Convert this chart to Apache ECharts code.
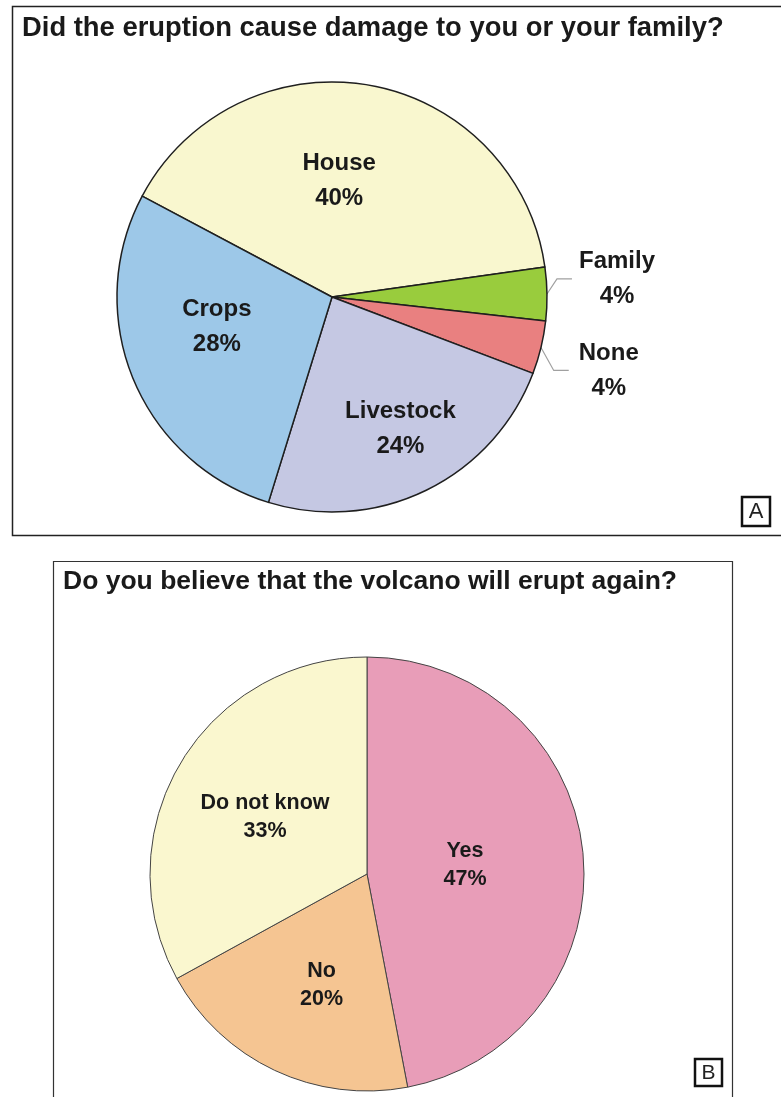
<!DOCTYPE html>
<html>
<head>
<meta charset="utf-8">
<script src="https://cdn.jsdelivr.net/npm/echarts@6/dist/echarts.min.js"></script>
<style>
  html, body { margin: 0; padding: 0; background: #ffffff; }
  #chart { width: 781px; height: 1097px; }
</style>
</head>
<body>
<div id="chart"></div>
<script>
// ---- Panel A data ----
const damageTitle = 'Did the eruption cause damage to you or your family?';
const damageCategories = ['House', 'Family', 'None', 'Livestock', 'Crops'];
const damageValues = [40, 4, 4, 24, 28];
const damageColors = ['#F9F7CF', '#99CC3D', '#E98080', '#C5C8E3', '#9DC8E8'];

// ---- Panel B data ----
const beliefTitle = 'Do you believe that the volcano will erupt again?';
const beliefCategories = ['Yes', 'No', 'Do not know'];
const beliefValues = [47, 20, 33];
const beliefColors = ['#E89DB8', '#F5C592', '#FAF7CF'];

const FONT = '"Liberation Sans", Arial, sans-serif';
const TEXT = '#1a1a1a';

// label nudges (layout only)
const damageNudge = {
  House: [-12, -7], Crops: [-13, -12], Livestock: [20, 33],
  Family: [4, -15], None: [10, 21]
};
const beliefNudge = { 'Yes': [-13, 2], 'No': [2, 10], 'Do not know': [-6, 0] };

const chart = echarts.init(document.getElementById('chart'), null, { renderer: 'canvas' });

function damageLayout(p) {
  const name = damageCategories[p.dataIndex];
  const n = damageNudge[name] || [0, 0];
  const out = { dx: n[0], dy: n[1] };
  const pts = p.labelLinePoints;
  if (pts && pts.length === 3 && (name === 'Family' || name === 'None')) {
    out.labelLinePoints = [
      [pts[0][0], pts[0][1]],
      [pts[1][0] + n[0] * 0.5, pts[1][1] + n[1]],
      [pts[2][0] + n[0] * 0.5, pts[2][1] + n[1]]
    ];
  }
  return out;
}

const option = {
  backgroundColor: '#ffffff',
  animation: false,
  title: [
    {
      text: damageTitle, left: 22, top: 15, padding: 0,
      textStyle: { fontFamily: FONT, fontWeight: 'bold', fontSize: 27.4, color: TEXT }
    },
    {
      text: beliefTitle, left: 63, top: 568, padding: 0,
      textStyle: { fontFamily: FONT, fontWeight: 'bold', fontSize: 26.5, color: TEXT }
    }
  ],
  graphic: [
    { type: 'rect', shape: { x: 12.5, y: 6.5, width: 800, height: 529 },
      style: { fill: 'none', stroke: '#222', lineWidth: 1.5 }, silent: true },
    { type: 'rect', shape: { x: 53.5, y: 561.5, width: 679, height: 600 },
      style: { fill: 'none', stroke: '#333', lineWidth: 1.2 }, silent: true },
    { type: 'rect', shape: { x: 742, y: 497, width: 28, height: 29 },
      style: { fill: '#fff', stroke: '#111', lineWidth: 2.5 }, silent: true },
    { type: 'text', x: 756, y: 511.5,
      style: { text: 'A', fontFamily: FONT, fontSize: 22, fill: '#222', align: 'center', verticalAlign: 'middle' } },
    { type: 'rect', shape: { x: 695, y: 1059, width: 27, height: 27 },
      style: { fill: '#fff', stroke: '#111', lineWidth: 2.5 }, silent: true },
    { type: 'text', x: 708.5, y: 1073,
      style: { text: 'B', fontFamily: FONT, fontSize: 21, fill: '#222', align: 'center', verticalAlign: 'middle' } }
  ],
  series: [
    {
      type: 'pie',
      center: [332, 297],
      radius: 215,
      startAngle: 152,
      clockwise: true,
      avoidLabelOverlap: false,
      itemStyle: { borderColor: '#1f1f1f', borderWidth: 1.5 },
      emphasis: { disabled: true },
      data: damageCategories.map((name, i) => ({
        name, value: damageValues[i],
        itemStyle: { color: damageColors[i] },
        label: (name === 'Family' || name === 'None')
          ? { position: 'outside' } : { position: 'inside' },
        labelLine: { show: name === 'Family' || name === 'None' }
      })),
      label: {
        formatter: p => '{t|' + p.name + '}\n{t|' + damageValues[p.dataIndex] + '%}',
        rich: {
          t: { fontFamily: FONT, fontWeight: 'bold', fontSize: 24, color: TEXT,
               align: 'center', lineHeight: 35 }
        }
      },
      labelLine: { length: 8, length2: 15, smooth: false,
                   lineStyle: { color: '#a0a0a0', width: 1.2 } },
      labelLayout: damageLayout
    },
    {
      type: 'pie',
      center: [367, 874],
      radius: 217,
      startAngle: 90,
      clockwise: true,
      avoidLabelOverlap: false,
      itemStyle: { borderColor: '#444', borderWidth: 1 },
      emphasis: { disabled: true },
      data: beliefCategories.map((name, i) => ({
        name, value: beliefValues[i], itemStyle: { color: beliefColors[i] }
      })),
      label: {
        position: 'inside',
        formatter: p => '{t|' + p.name + '}\n{t|' + beliefValues[p.dataIndex] + '%}',
        rich: {
          t: { fontFamily: FONT, fontWeight: 'bold', fontSize: 21.5, color: TEXT,
               align: 'center', lineHeight: 28 }
        }
      },
      labelLine: { show: false },
      labelLayout: p => {
        const n = beliefNudge[beliefCategories[p.dataIndex]] || [0, 0];
        return { dx: n[0], dy: n[1] };
      }
    }
  ]
};

chart.setOption(option);
</script>
</body>
</html>
